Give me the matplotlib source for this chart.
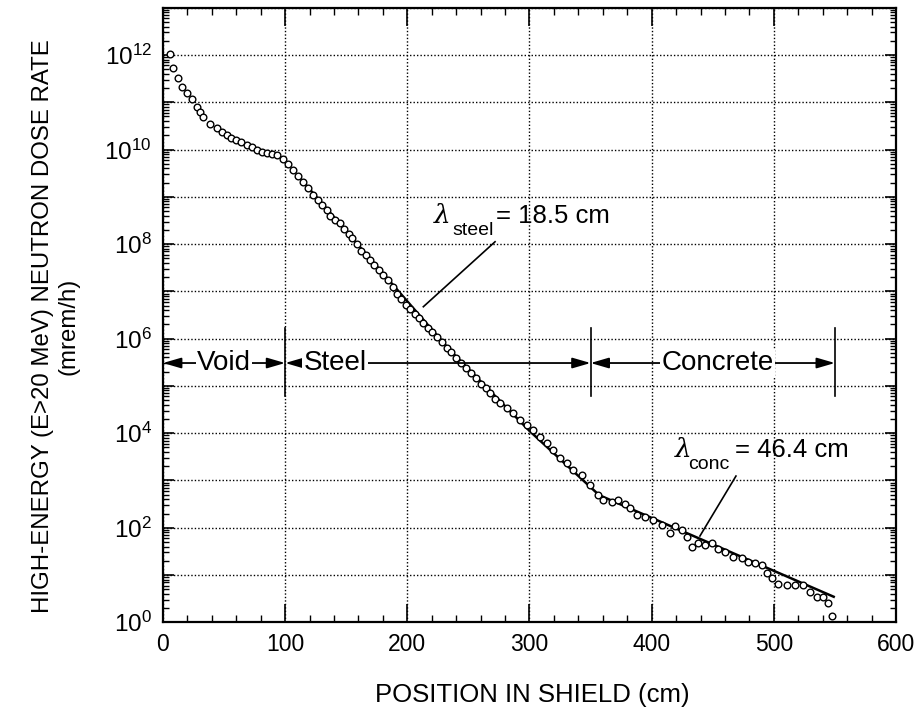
import matplotlib
matplotlib.use("Agg")
import matplotlib.pyplot as plt
from matplotlib.ticker import LogLocator, FuncFormatter, MultipleLocator, NullFormatter
from matplotlib import font_manager

names = {f.name for f in font_manager.fontManager.ttflist}
FONT = "Liberation Sans"
NARROW = "Liberation Sans Narrow" if "Liberation Sans Narrow" in names else FONT
plt.rcParams["font.family"] = [FONT, "DejaVu Sans"]
plt.rcParams["mathtext.fontset"] = "custom"
plt.rcParams["mathtext.rm"] = FONT
plt.rcParams["mathtext.it"] = FONT + ":italic"

# ---- data ----
position_cm = [5.7, 8.5, 12.5, 15.8, 19.9, 23.5, 27.6, 30.5, 33, 38.5, 44, 48, 52, 56, 60, 64,
               68.5, 72.5, 76.7, 81, 84.9, 89, 93, 98.5, 102.5, 106.7, 110.7, 114.8, 119, 123,
               126.5, 130, 134, 137, 140.5, 144.9, 148, 152, 155, 158.5, 162, 166, 169.4, 173,
               177, 180.3, 184, 188, 191.3, 195, 199, 202.2, 206, 209.5, 213.1, 217, 220.5, 224,
               228, 232.2, 236, 240, 244, 248, 252, 256, 260, 264, 268, 272, 275.8, 281.3, 286.8,
               292.2, 297.7, 303.1, 308.6, 314.1, 319.5, 325, 330.4, 335.9, 342.7, 349.5, 356.3,
               360.4, 367.3, 372.7, 378.2, 382.3, 387.7, 394.5, 401.3, 408.2, 415, 419.1, 424.5,
               428.7, 432.7, 438.2, 443.6, 449.1, 454.5, 460, 466.8, 473.7, 479.1, 484.6, 490,
               494.1, 498.2, 503.7, 510.5, 517.3, 524.1, 529.6, 535, 540.5, 544.6, 547.9]
dose_rate = [1.07e12, 5.25e11, 3.24e11, 2.14e11, 1.55e11, 1.20e11, 8.13e10, 6.31e10, 4.90e10,
             3.55e10, 2.82e10, 2.34e10, 2.04e10, 1.78e10, 1.58e10, 1.41e10, 1.26e10, 1.12e10,
             9.77e9, 8.91e9, 8.32e9, 7.94e9, 7.59e9, 6.31e9, 5.01e9, 3.72e9, 2.82e9, 2.09e9,
             1.51e9, 1.10e9, 8.51e8, 6.76e8, 5.25e8, 3.98e8, 3.31e8, 2.75e8, 2.09e8, 1.66e8,
             1.32e8, 1.00e8, 7.24e7, 5.75e7, 4.57e7, 3.63e7, 2.82e7, 2.24e7, 1.70e7, 1.26e7,
             8.91e6, 6.92e6, 5.25e6, 4.27e6, 3.31e6, 2.69e6, 2.14e6, 1.66e6, 1.35e6, 1.10e6,
             8.51e5, 6.46e5, 5.13e5, 3.98e5, 3.02e5, 2.34e5, 1.86e5, 1.45e5, 1.12e5, 8.91e4,
             6.92e4, 5.37e4, 4.27e4, 3.39e4, 2.63e4, 1.91e4, 1.48e4, 1.17e4, 8.51e3, 6.17e3,
             4.37e3, 2.95e3, 2.29e3, 1.66e3, 1.32e3, 794, 490, 389, 355, 389, 316, 257, 186,
             170, 145, 115, 75.9, 110, 89.1, 64.6, 39.8, 46.8, 43.7, 46.8, 36.3, 30.9, 24.5,
             22.4, 19.1, 17.8, 16.2, 11.0, 8.51, 6.61, 6.17, 6.17, 6.17, 4.47, 3.47, 3.47,
             2.51, 1.35]

fit_x = [113, 235, 300, 357, 549]
fit_y = [2.34e9, 5.62e5, 1.12e4, 490, 3.47]

regions = ["Void", "Steel", "Concrete"]
region_bounds = [(0, 100), (100, 350), (350, 550)]
region_label_x = [50, 141, 454]
region_arrow_y = 3.05e5
region_sep_y = (1.65e6, 6.2e4)

x_ticks = [0, 100, 200, 300, 400, 500, 600]

# ---- figure ----
W, H = 920, 716
fig = plt.figure(figsize=(W / 100, H / 100), dpi=100)
L, R, T, B = 163, 896, 7.7, 622.3
ax = fig.add_axes([L / W, 1 - B / H, (R - L) / W, (B - T) / H])

ax.set_xlim(0, 600)
ax.set_yscale("log")
ax.set_ylim(1, 1e13)

# grid
ax.grid(True, which="major", axis="both", linestyle=(0, (1, 1.5)), linewidth=1.0, color="black")

# data
ax.plot(fit_x, fit_y, color="black", linewidth=1.8, zorder=3)
ax.plot(position_cm, dose_rate, linestyle="none", marker="o", markersize=4.8,
        markerfacecolor="white", markeredgecolor="black", markeredgewidth=1.0, zorder=4)

# ticks
ax.set_xticks(x_ticks)
ax.xaxis.set_minor_locator(MultipleLocator(20))
ax.yaxis.set_major_locator(LogLocator(base=10, numticks=30))
ax.yaxis.set_minor_locator(LogLocator(base=10, subs=[2, 3, 4, 5, 6, 7, 8, 9], numticks=30))
ax.yaxis.set_minor_formatter(NullFormatter())


def yfmt(v, pos):
    import math
    e = int(round(math.log10(v)))
    if e % 2 == 0:
        return r"$\mathregular{10^{%d}}$" % e
    return ""


ax.yaxis.set_major_formatter(FuncFormatter(yfmt))
ax.tick_params(which="both", direction="in", top=True, right=True, colors="black")
ax.tick_params(axis="x", which="major", length=13, width=1.2, labelsize=16.5, pad=8)
ax.tick_params(axis="x", which="minor", length=5, width=1.0)
ax.tick_params(axis="y", which="major", length=8, width=1.2, labelsize=17.5, pad=8)
ax.tick_params(axis="y", which="minor", length=4.5, width=1.0)
for s in ax.spines.values():
    s.set_linewidth(1.6)

# region arrows
for name, (a, b), cx in zip(regions, region_bounds, region_label_x):
    ax.annotate("", xy=(a, region_arrow_y), xytext=(b, region_arrow_y),
                arrowprops=dict(arrowstyle="<|-|>,head_length=1.1,head_width=0.32",
                                color="black", lw=1.3, shrinkA=0, shrinkB=0,
                                mutation_scale=10), zorder=5)
    ax.text(cx, region_arrow_y, name, ha="center", va="center", fontsize=20,
            family=[NARROW, FONT],
            bbox=dict(facecolor="white", edgecolor="none", pad=1.0), zorder=6)
for a in [100, 350, 550]:
    ax.plot([a, a], region_sep_y, color="black", linewidth=1.2, zorder=5)

# lambda annotations
ax.plot([271.8, 213.1], [1.12e8, 4.73e6], color="black", linewidth=1.2, zorder=5)
ax.plot([469, 439.5], [1.24e3, 66.8], color="black", linewidth=1.2, zorder=5)


def lam(xpx, ypx, sub, rest, subdx, restdx):
    fx = lambda p: p / W
    fy = lambda p: 1 - p / H
    fig.text(fx(xpx), fy(ypx), "λ", fontsize=19, family=["DejaVu Serif"], ha="left",
             va="baseline", style="italic")
    fig.text(fx(xpx + subdx), fy(ypx + 12), sub, fontsize=14, ha="left", va="baseline",
             family=[NARROW, FONT])
    fig.text(fx(xpx + restdx), fy(ypx), rest, fontsize=18.5, ha="left", va="baseline",
             family=[NARROW, FONT])


lam(434, 223, "steel", "= 18.5 cm", 18, 62)
lam(675, 457, "conc", "= 46.4 cm", 13, 60)

# axis labels
fig.text(56 / W, 1 - 326 / H, "HIGH-ENERGY (E>20 MeV) NEUTRON DOSE RATE\n(mrem/h)",
         rotation=90, ha="center", va="center", multialignment="center", fontsize=17.3,
         family=[NARROW, FONT], linespacing=1.2)
fig.text(532 / W, 1 - 695 / H, "POSITION IN SHIELD (cm)", ha="center", va="center",
         fontsize=18.5, family=[NARROW, FONT])

fig.savefig("out.png", dpi=100, facecolor="white")
